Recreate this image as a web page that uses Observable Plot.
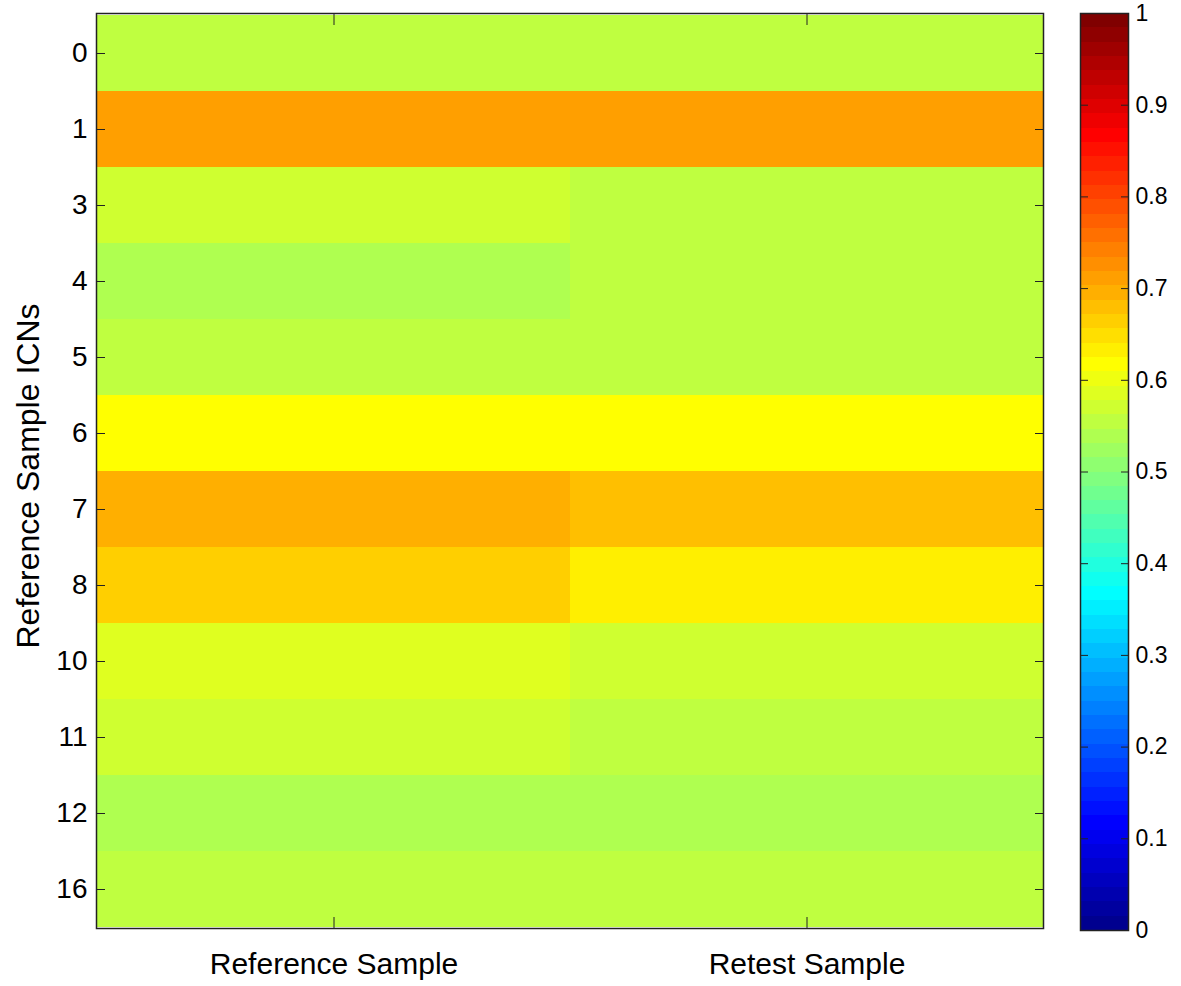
<!DOCTYPE html>
<html>
<head>
<meta charset="utf-8">
<script src="https://cdn.jsdelivr.net/npm/d3@7"></script>
<script src="https://cdn.jsdelivr.net/npm/@observablehq/plot@0.6"></script>
<style>
  body { margin: 0; background: white; }
  #wrap { position: relative; width: 1181px; height: 986px; overflow: hidden; }
  #main { position: absolute; left: 0; top: 0; }
  #bar { position: absolute; left: 1060px; top: 0; }
</style>
</head>
<body>
<div id="wrap"><div id="main"></div><div id="bar"></div></div>
<script>
// ---- data ----
const rows = ["0", "1", "3", "4", "5", "6", "7", "8", "10", "11", "12", "16"];
const columns = ["Reference Sample", "Retest Sample"];
const referenceValues = [0.555, 0.711, 0.570, 0.540, 0.555, 0.617, 0.695, 0.664, 0.586, 0.570, 0.540, 0.555];
const retestValues    = [0.555, 0.711, 0.555, 0.555, 0.555, 0.617, 0.680, 0.633, 0.570, 0.555, 0.540, 0.555];
const colorbarTicks = [0, 0.1, 0.2, 0.3, 0.4, 0.5, 0.6, 0.7, 0.8, 0.9, 1];
const yLabel = "Reference Sample ICNs";

// ---- MATLAB jet(64) colormap ----
function jet(m) {
  const n = Math.ceil(m / 4);
  const u = [];
  for (let i = 1; i <= n; i++) u.push(i / n);
  for (let i = 1; i < n; i++) u.push(1);
  for (let i = n; i >= 1; i--) u.push(i / n);
  const g0 = Math.ceil(n / 2) - (m % 4 === 1 ? 1 : 0);
  const R = new Array(m).fill(0), G = new Array(m).fill(0), B = new Array(m).fill(0);
  u.forEach((v, k) => {
    const g = g0 + k + 1, r = g + n, b = g - n;
    if (g >= 1 && g <= m) G[g - 1] = v;
    if (r >= 1 && r <= m) R[r - 1] = v;
    if (b >= 1 && b <= m) B[b - 1] = v;
  });
  return d3.range(m).map(i => d3.rgb(R[i] * 255, G[i] * 255, B[i] * 255).formatHex());
}
const nLevels = 64;
const jetColors = jet(nLevels);
const thresholds = d3.range(1, nLevels).map(i => i / nLevels);
const levels = d3.range(nLevels);
const colorScale = {type: "threshold", domain: thresholds, range: jetColors};

const table = [];
rows.forEach((r, i) => {
  table.push({row: r, column: columns[0], value: referenceValues[i]});
  table.push({row: r, column: columns[1], value: retestValues[i]});
});

const font = "'Liberation Sans', Arial, Helvetica, sans-serif";

const main = Plot.plot({
  width: 1181, height: 986,
  marginLeft: 96, marginRight: 138, marginTop: 13, marginBottom: 58,
  style: {fontFamily: font, fontSize: "28px", color: "black", background: "white"},
  x: {domain: columns, padding: 0},
  y: {domain: rows, padding: 0},
  color: colorScale,
  marks: [
    Plot.cell(table, {x: "column", y: "row", fill: "value", inset: 0, shapeRendering: "crispEdges"}),
    Plot.frame({stroke: "#222", strokeWidth: 1.5}),
    Plot.axisY({anchor: "left", tickSize: -9, tickPadding: 18, fontSize: 28, label: null, stroke: "#222"}),
    Plot.axisY({anchor: "right", tickSize: -9, tickFormat: () => "", label: null, stroke: "#222"}),
    Plot.axisX({anchor: "bottom", tickSize: -11, tickPadding: 35, fontSize: 30, label: null, stroke: "#222"}),
    Plot.axisX({anchor: "top", tickSize: -11, tickFormat: () => "", label: null, stroke: "#222"}),
    Plot.text([yLabel], {text: d => d, frameAnchor: "left", dx: -68, dy: 5, rotate: -90, textAnchor: "middle", fontSize: 32, fill: "black"})
  ]
});
document.getElementById("main").appendChild(main);

const bar = Plot.plot({
  width: 121, height: 986,
  marginLeft: 20, marginRight: 53, marginTop: 13, marginBottom: 56,
  style: {fontFamily: font, fontSize: "23px", color: "black", background: "white"},
  y: {domain: [0, 1]},
  color: colorScale,
  marks: [
    Plot.rect(levels, {y1: i => i / nLevels, y2: i => (i + 1) / nLevels, fill: i => (i + 0.5) / nLevels, shapeRendering: "crispEdges"}),
    Plot.frame({stroke: "#222", strokeWidth: 1.5}),
    Plot.axisY(colorbarTicks, {anchor: "right", tickSize: -8, tickPadding: 15, fontSize: 23, label: null, tickFormat: d => String(d), stroke: "#222"}),
    Plot.axisY(colorbarTicks, {anchor: "left", tickSize: -8, tickFormat: () => "", label: null, stroke: "#222"})
  ]
});
document.getElementById("bar").appendChild(bar);
</script>
</body>
</html>
